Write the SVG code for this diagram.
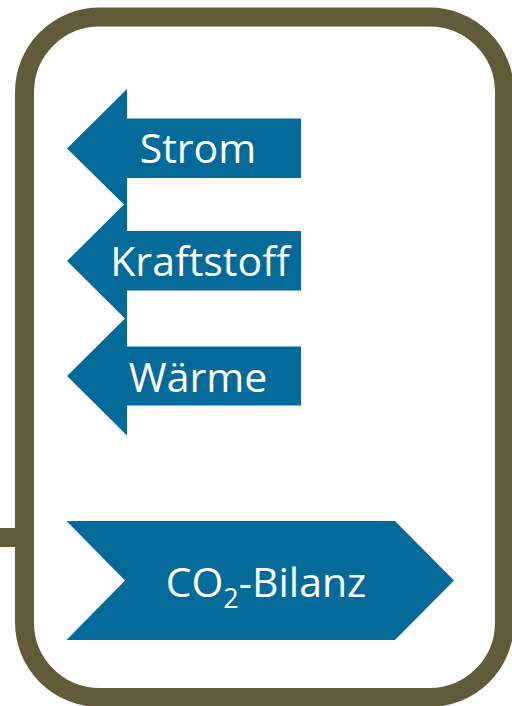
<svg xmlns="http://www.w3.org/2000/svg" width="512" height="706" viewBox="0 0 512 706">
  <style>
    .frame { fill: none; stroke: #625B39; stroke-width: 19; }
    .stub { stroke: #625B39; stroke-width: 19; fill: none; }
    .shape { fill: #046A99; }
    .label { fill: #FFFFFF; font-family: "Open Sans", "Noto Sans", sans-serif; font-size: 41px; text-anchor: middle; }
  </style>
  <rect width="512" height="706" fill="#FFFFFF"/>

  <!-- outer container -->
  <g id="container">
    <rect class="frame" x="24.5" y="17" width="480" height="680.5" rx="75" ry="75"/>
  </g>

  <!-- connector stub entering the container on the left -->
  <g id="connectors">
    <line class="stub" x1="0" y1="537.5" x2="24" y2="537.5"/>
  </g>

  <!-- left-pointing output arrows -->
  <g id="strom">
    <polygon class="shape" points="67,148.5 127,89 127,118.5 301,118.5 301,178 127,178 127,207.5"/>
    <text class="label" x="198" y="163">Strom</text>
  </g>
  <g id="kraftstoff">
    <polygon class="shape" points="67,261 127,201.5 127,231 301,231 301,290.5 127,290.5 127,320.5"/>
    <text class="label" x="200" y="276">Kraftstoff</text>
  </g>
  <g id="waerme">
    <polygon class="shape" points="67,376 127,316.5 127,346.5 301,346.5 301,405.5 127,405.5 127,435.5"/>
    <text class="label" x="198" y="392">Wärme</text>
  </g>

  <!-- chevron at the bottom -->
  <g id="co2-bilanz">
    <polygon class="shape" points="66.5,521 395,521 454,580.5 395,640 66.5,640 125,580.5"/>
    <text class="label" x="266" y="597" font-size="43">CO<tspan font-size="27" dy="11">2</tspan><tspan dy="-11">-Bilanz</tspan></text>
  </g>
</svg>
